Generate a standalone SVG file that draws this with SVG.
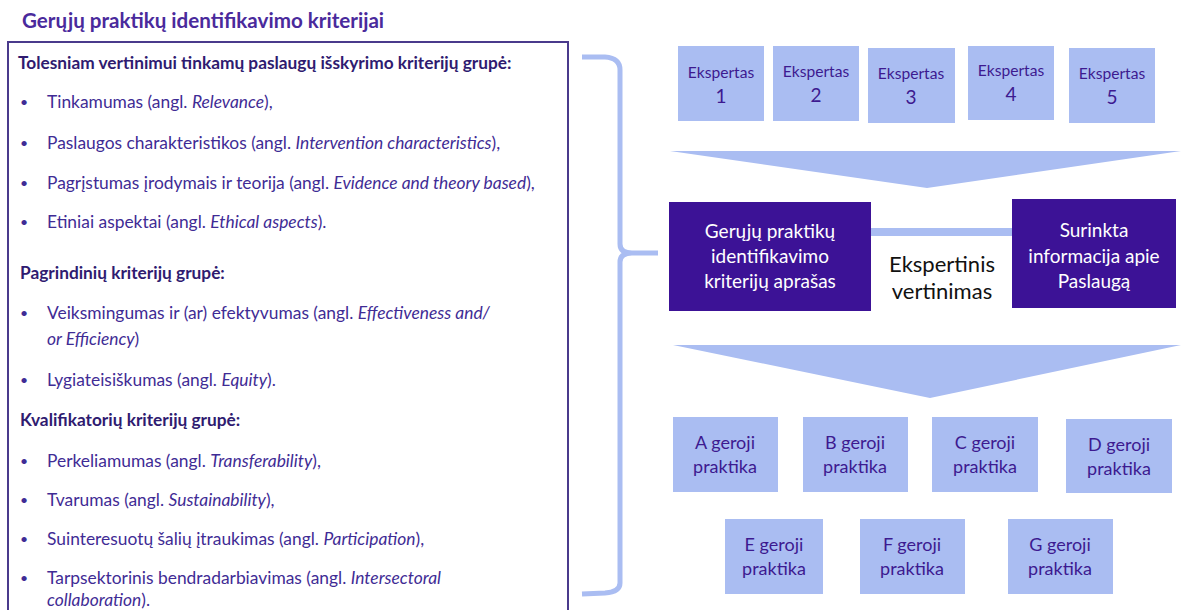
<svg xmlns="http://www.w3.org/2000/svg" width="1185" height="610" viewBox="0 0 1185 610">
<style>
.t{font-family:Lato,"Open Sans","Liberation Sans",sans-serif;}
.title{font-size:20.6px;font-weight:bold;fill:#4a2a9c;}
.hdr{font-size:17.3px;font-weight:bold;fill:#2f1b70;}
.body{font-size:17.4px;fill:#3f2c95;}
.bul{font-size:14px;fill:#3f2c95;}
.it{font-style:italic;}
.lb{fill:#aabdf2;}
.dk{fill:#3c1296;}
.bx{font-size:15.6px;fill:#3d1a90;text-anchor:middle;}
.num{font-size:19px;fill:#3d1a90;text-anchor:middle;}
.gp{font-size:18px;fill:#3d1a90;text-anchor:middle;}
.wt{font-size:19px;fill:#ffffff;text-anchor:middle;}
.ev{font-size:22px;fill:#111111;text-anchor:middle;}
</style>
<rect width="1185" height="610" fill="#ffffff"/>
<text class="t title" x="22" y="28">Gerųjų praktikų identifikavimo kriterijai</text>
<g id="criteria-panel">
<rect x="8" y="42" width="560" height="590" fill="#ffffff" stroke="#4a3a8c" stroke-width="2"/>
<text class="t hdr" x="18" y="69">Tolesniam vertinimui tinkamų paslaugų išskyrimo kriterijų grupė:</text>
<g class="t bul">
<text x="20" y="107">•</text>
<text x="20" y="148">•</text>
<text x="20" y="188">•</text>
<text x="20" y="227">•</text>
<text x="20" y="318">•</text>
<text x="20" y="385">•</text>
<text x="20" y="466">•</text>
<text x="20" y="505">•</text>
<text x="20" y="544">•</text>
<text x="20" y="583">•</text>
</g>
<g class="t body">
<text x="47" y="108">Tinkamumas (angl. <tspan class="it">Relevance</tspan>),</text>
<text x="47" y="149">Paslaugos charakteristikos (angl. <tspan class="it">Intervention characteristics</tspan>),</text>
<text x="47" y="189">Pagrįstumas įrodymais ir teorija (angl. <tspan class="it">Evidence and theory based</tspan>),</text>
<text x="47" y="228">Etiniai aspektai (angl. <tspan class="it">Ethical aspects</tspan>).</text>
</g>
<text class="t hdr" x="20" y="279">Pagrindinių kriterijų grupė:</text>
<g class="t body">
<text x="47" y="319">Veiksmingumas ir (ar) efektyvumas (angl. <tspan class="it">Effectiveness and/</tspan></text>
<text x="47" y="345"><tspan class="it">or Efficiency</tspan>)</text>
<text x="47" y="386">Lygiateisiškumas (angl. <tspan class="it">Equity</tspan>).</text>
</g>
<text class="t hdr" x="20" y="426">Kvalifikatorių kriterijų grupė:</text>
<g class="t body">
<text x="47" y="467">Perkeliamumas (angl. <tspan class="it">Transferability</tspan>),</text>
<text x="47" y="506">Tvarumas (angl. <tspan class="it">Sustainability</tspan>),</text>
<text x="47" y="545">Suinteresuotų šalių įtraukimas (angl. <tspan class="it">Participation</tspan>),</text>
<text x="47" y="584">Tarpsektorinis bendradarbiavimas (angl. <tspan class="it">Intersectoral</tspan></text>
<text x="47" y="606"><tspan class="it">collaboration</tspan>).</text>
</g>
</g>
<g id="connectors" fill="none" stroke="#aabdf2" stroke-width="5" stroke-linecap="butt">
<path d="M582,57 L605,57 Q620,58 620,70 L620,244 Q620,253 632,253 L658,253 M632,253 Q620,253 620,262 L620,583 Q620,592 605,593 L582,594"/>
<line x1="871" y1="232" x2="1012" y2="232" stroke-width="8"/>
</g>
<g id="experts">
<g id="expert1"><rect class="lb" x="678" y="46" width="86" height="75"/><text class="t bx" x="721" y="78">Ekspertas</text><text class="t num" x="721" y="103">1</text></g>
<g id="expert2"><rect class="lb" x="773" y="46" width="86" height="75"/><text class="t bx" x="816" y="77">Ekspertas</text><text class="t num" x="816" y="102">2</text></g>
<g id="expert3"><rect class="lb" x="868" y="48" width="87" height="75"/><text class="t bx" x="911" y="79">Ekspertas</text><text class="t num" x="911" y="104">3</text></g>
<g id="expert4"><rect class="lb" x="968" y="46" width="86" height="74"/><text class="t bx" x="1011" y="76">Ekspertas</text><text class="t num" x="1011" y="101">4</text></g>
<g id="expert5"><rect class="lb" x="1069" y="48" width="86" height="75"/><text class="t bx" x="1112" y="79">Ekspertas</text><text class="t num" x="1112" y="104">5</text></g>
</g>
<g id="arrow1"><polygon class="lb" points="670,151 1181,151 927,188"/></g>
<g id="criteria-desc"><rect class="dk" x="669" y="202" width="202" height="109"/>
<text class="t wt" x="770" y="238">Gerųjų praktikų</text><text class="t wt" x="770" y="263">identifikavimo</text><text class="t wt" x="770" y="288">kriterijų aprašas</text></g>
<g id="info"><rect class="dk" x="1012" y="199" width="164" height="109"/>
<text class="t wt" x="1094" y="237">Surinkta</text><text class="t wt" x="1094" y="263">informacija apie</text><text class="t wt" x="1094" y="288">Paslaugą</text></g>
<g id="eval"><text class="t ev" x="942" y="272">Ekspertinis</text><text class="t ev" x="942" y="299">vertinimas</text></g>
<g id="arrow2"><polygon class="lb" points="673,345 1181,345 930,398"/></g>
<g id="practices">
<g id="pA"><rect class="lb" x="673" y="417" width="105" height="75"/><text class="t gp" x="725" y="449">A geroji</text><text class="t gp" x="725" y="473">praktika</text></g>
<g id="pB"><rect class="lb" x="803" y="417" width="105" height="75"/><text class="t gp" x="855" y="449">B geroji</text><text class="t gp" x="855" y="473">praktika</text></g>
<g id="pC"><rect class="lb" x="932" y="417" width="106" height="75"/><text class="t gp" x="985" y="449">C geroji</text><text class="t gp" x="985" y="473">praktika</text></g>
<g id="pD"><rect class="lb" x="1066" y="419" width="106" height="74"/><text class="t gp" x="1119" y="451">D geroji</text><text class="t gp" x="1119" y="475">praktika</text></g>
<g id="pE"><rect class="lb" x="725" y="519" width="98" height="75"/><text class="t gp" x="774" y="551">E geroji</text><text class="t gp" x="774" y="575">praktika</text></g>
<g id="pF"><rect class="lb" x="860" y="519" width="105" height="75"/><text class="t gp" x="912" y="551">F geroji</text><text class="t gp" x="912" y="575">praktika</text></g>
<g id="pG"><rect class="lb" x="1008" y="519" width="105" height="75"/><text class="t gp" x="1060" y="551">G geroji</text><text class="t gp" x="1060" y="575">praktika</text></g>
</g>
</svg>
